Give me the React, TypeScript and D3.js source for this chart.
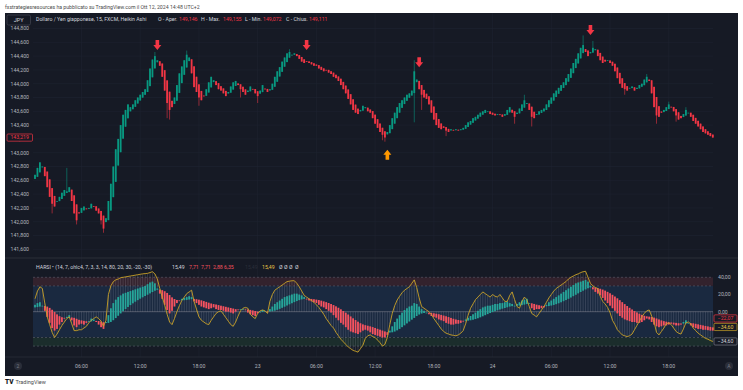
import * as d3 from "d3";
import { useEffect, useRef } from "react";

// 15 minute bars, first bar time
const START = "2024-10-22T01:15:00";
const BAR_MIN = 15;

// USD/JPY Heikin Ashi closes
const haClose = [
  142.68, 142.78, 142.86, 142.8, 142.66, 142.5, 142.36, 142.26, 142.22, 142.3,
  142.36, 142.42, 142.46, 142.44, 142.5, 142.3, 142.12, 142.02, 142.12, 142.2,
  142.22, 142.18, 142.2, 142.26, 142.22, 142.16, 142.12, 142.02, 141.9, 142.05,
  142.3, 142.55, 142.8, 143.05, 143.2, 143.4, 143.55, 143.62, 143.7, 143.66,
  143.7, 143.76, 143.8, 143.84, 143.88, 143.92, 144.05, 144.22, 144.35, 144.4,
  144.34, 144.26, 144.1, 143.9, 143.72, 143.62, 143.66, 143.8, 143.98, 144.15,
  144.25, 144.34, 144.42, 144.38, 144.15, 143.95, 143.88, 143.8, 143.76, 143.82,
  143.92, 144.02, 144.1, 144.05, 143.98, 143.92, 143.9, 143.86, 143.82, 143.88,
  143.96, 144.02, 144.04, 143.98, 143.92, 143.88, 143.84, 143.9, 143.96, 143.92,
  143.86, 143.82, 143.9, 143.98, 143.92, 143.88, 143.92, 144.0, 144.1, 144.18,
  144.24, 144.32, 144.38, 144.44, 144.46, 144.42, 144.44, 144.4, 144.36, 144.32,
  144.3, 144.32, 144.3, 144.28, 144.26, 144.26, 144.22, 144.2, 144.18, 144.2,
  144.16, 144.14, 144.1, 144.08, 144.04, 143.98, 143.92, 143.86, 143.78, 143.7,
  143.62, 143.58, 143.56, 143.62, 143.68, 143.66, 143.6, 143.58, 143.5, 143.42,
  143.36, 143.3, 143.26, 143.22, 143.3, 143.4, 143.5, 143.58, 143.66, 143.72,
  143.76, 143.8, 143.84, 143.86, 143.9, 144.18, 144.06, 143.92, 143.84, 143.8,
  143.78, 143.7, 143.58, 143.48, 143.4, 143.36, 143.34, 143.36, 143.32, 143.3,
  143.34, 143.32, 143.34, 143.32, 143.34, 143.36, 143.4, 143.44, 143.46, 143.5,
  143.52, 143.55, 143.58, 143.6, 143.62, 143.6, 143.56, 143.55, 143.54, 143.56,
  143.55, 143.52, 143.56, 143.62, 143.66, 143.58, 143.52, 143.58, 143.64, 143.7,
  143.76, 143.72, 143.62, 143.52, 143.5, 143.56, 143.6, 143.62, 143.64, 143.7,
  143.76, 143.8, 143.86, 143.9, 143.94, 143.98, 144.02, 144.08, 144.14, 144.22,
  144.3, 144.36, 144.44, 144.52, 144.56, 144.46, 144.4, 144.46, 144.52, 144.5,
  144.4, 144.34, 144.3, 144.32, 144.34, 144.3, 144.26, 144.18, 144.08, 144.0,
  143.94, 143.92, 143.9, 143.94, 143.96, 143.9, 143.94, 143.98, 144.0, 144.06,
  144.1, 144.04, 143.86, 143.66, 143.54, 143.52, 143.58, 143.62, 143.66, 143.7,
  143.66, 143.6, 143.54, 143.48, 143.5, 143.56, 143.62, 143.58, 143.52, 143.46,
  143.42, 143.38, 143.34, 143.3, 143.28, 143.26, 143.24, 143.219,
];
const firstOpen = 142.62;

// visible wicks [bar, price]
const wickHigh = [
  [13, 142.78], [49, 144.46], [62, 144.48], [104, 144.5], [155, 144.34],
  [200, 143.84], [224, 144.7], [228, 144.62], [250, 144.14], [259, 143.74], [266, 143.66],
];
const wickLow = [
  [7, 142.12], [17, 141.96], [27, 141.96], [28, 141.84], [54, 143.5], [55, 143.48],
  [67, 143.68], [84, 143.8], [91, 143.72], [142, 143.18], [143, 143.16], [155, 143.44],
  [158, 143.62], [168, 143.24], [196, 143.42], [203, 143.38], [241, 143.84], [254, 143.42],
  [262, 143.45],
];

// signal arrows
const signalBars = [50, 111, 157, 227, 144];
const signalPrices = [144.56, 144.56, 144.31, 144.78, 142.97];
const signalDirs = ["down", "down", "down", "down", "up"];

// HARSI: heikin ashi RSI closes (centered on 0) and stochastic line
const rsiClose = [
  8, 10, 11, 7, 1, -6, -13, -19, -22, -20,
  -15, -12, -8, -6, -4, -10, -16, -18, -15, -14,
  -15, -13, -11, -8, -9, -12, -15, -18, -20, -12,
  -4, 4, 10, 14, 17, 19, 21, 22, 23, 24,
  25, 26, 27, 28, 29, 30, 32, 34, 35, 33,
  27, 21, 15, 8, 2, -2, 1, 6, 10, 13,
  15, 16, 17, 18, 17, 12, 10, 8, 6, 5,
  4, 3, 4, 5, 3, 2, 2, 1, 0, 0,
  -1, -2, 0, 2, 3, 3, 2, -1, -3, -4,
  -5, -2, 0, 2, 1, 0, 3, 6, 9, 11,
  13, 15, 17, 18, 19, 20, 21, 21, 20, 19,
  17, 15, 13, 12, 11, 10, 8, 6, 5, 3,
  1, -1, -4, -7, -10, -13, -15, -18, -21, -23,
  -24, -25, -26, -24, -22, -21, -22, -24, -26, -27,
  -28, -29, -30, -30, -27, -22, -17, -12, -8, -4,
  -1, 2, 4, 6, 7, 10, 9, 6, 3, 1,
  -1, -3, -5, -6, -7, -9, -10, -11, -13, -14,
  -15, -15, -14, -14, -13, -11, -9, -7, -5, -3,
  -1, 1, 3, 5, 6, 7, 7, 8, 9, 9,
  10, 10, 11, 12, 10, 9, 7, 9, 11, 13,
  14, 15, 10, 4, 2, 3, 3, 4, 5, 8,
  11, 13, 15, 17, 19, 21, 23, 25, 27, 29,
  31, 33, 34, 35, 36, 37, 35, 30, 26, 23,
  21, 19, 16, 13, 10, 7, 4, 1, -2, -5,
  -7, -9, -10, -11, -12, -12, -13, -13, -12, -10,
  -8, -9, -12, -15, -17, -18, -17, -16, -16, -15,
  -14, -15, -16, -16, -15, -12, -10, -13, -16, -18,
  -19, -20, -20, -21, -21, -21.5, -22, -22.07,
];
const rsiSmoothing = 7;

const stoch = [
  15, 24, 29, 27, 10, -6, -15, -24, -30, -26,
  -21, -16, -12, -8, -6, -14, -22, -22, -21, -21,
  -19, -17, -13, -10, -8, -6, -8, -11, -17, -10,
  20, 30, 35, 37, 38, 39.5, 40, 40.5, 41, 41.5,
  42, 42.5, 43, 43.5, 44, 44.3, 44.6, 45.5, 46.5, 44,
  38, 27, 17, 8, -3, -12, -15, -8, 0, 7,
  13, 17, 21, 23, 25, 12, 3, -6, -10, -12,
  -14, -15, -10, -6, -2, 0, 1, -3, -7, -11,
  -15, -17, -12, -5, 1, 4, 5, 4, -3, -6,
  -8, -2, 1, 2, 1, -2, 12, 20, 25, 27,
  29, 31, 33, 35, 35.5, 36, 36, 33, 29, 24,
  19, 17, 15, 13, 11, 8, 5, 1, -3, -8,
  -12, -16, -19, -24, -28, -32, -35, -38, -41, -43,
  -45, -46, -47, -43, -39, -31, -28, -27, -29, -30,
  -33, -36, -40, -38, -30, -15, -2, 7, 13.5, 18,
  22, 25, 27, 29, 33, 37, 28, 16, 6, 4,
  2, 0, -3, -8, -12, -16, -20, -23, -25, -26,
  -27, -27.5, -28, -27, -25, -22, -14, -4, 4, 9,
  14, 17, 20, 23, 21, 19, 17, 20, 18, 17,
  20, 16, 12, 12, 19, 23, 14, 6, 4, 12,
  17, 14, 6, -2, -4, -6, -2, 2, 6, 11,
  16, 20, 24, 27, 29, 31, 33, 35, 38, 40,
  41.5, 43, 44, 45.5, 46.5, 47, 40, 33, 30, 28,
  27, 18, 12, 9, 5, -1, -10, -15, -21, -24,
  -27, -28, -29, -28, -26, -21, -16, -11, -6, -2,
  1, 2, -5, -12, -24, -27, -23, -19, -14, -13,
  -15, -19, -23, -25, -26, -20, -13, -12, -14, -19,
  -22, -25, -27, -29, -31, -32, -33.5, -34.6,
];

const priceTicks = [141.6, 141.8, 142.0, 142.2, 142.4, 142.6, 142.8, 143.0, 143.2, 143.4, 143.6, 143.8, 144.0, 144.2, 144.4, 144.6, 144.8];
const oscTicks = [40, 20, 0];
const timeTicks = [
  "2024-10-22T06:00:00", "2024-10-22T12:00:00", "2024-10-22T18:00:00", "2024-10-23T00:00:00",
  "2024-10-23T06:00:00", "2024-10-23T12:00:00", "2024-10-23T18:00:00", "2024-10-24T00:00:00",
  "2024-10-24T06:00:00", "2024-10-24T12:00:00", "2024-10-24T18:00:00",
];
const timeLabels = ["06:00", "12:00", "18:00", "23", "06:00", "12:00", "18:00", "24", "06:00", "12:00", "18:00"];

const headerText = "fxstrategiesresources ha pubblicato su TradingView.com il Ott 12, 2024 14:48 UTC+2";
const mainLegend = [
  ["Dollaro / Yen giapponese, 15, FXCM, Heikin Ashi", "#d1d4dc", 36],
  ["O - Aper.", "#d1d4dc", 158], ["149,146", "#f23645", 179],
  ["H - Max.", "#d1d4dc", 201], ["149,155", "#f23645", 223],
  ["L - Min.", "#d1d4dc", 245], ["149,072", "#f23645", 263],
  ["C - Chius.", "#d1d4dc", 286], ["149,111", "#f23645", 309],
];
const harsiLegend = [
  ["HARSI • (14, 7, ohlc4, 7, 3, 3, 14, 80, 20, 30, -20, -30)", "#d1d4dc", 36],
  ["15,49", "#d1d4dc", 172], ["7,71", "#f7525f", 189], ["7,71", "#f7525f", 201],
  ["2,88", "#f7525f", 213], ["6,35", "#f7525f", 224], ["15,49", "#2a2e39", 245],
  ["15,49", "#e8c547", 262], ["Ø", "#d1d4dc", 279], ["Ø", "#d1d4dc", 284],
  ["Ø", "#d1d4dc", 289], ["Ø", "#d1d4dc", 295],
];

export default function App() {
  const svgRef = useRef<SVGSVGElement | null>(null);

  useEffect(() => {
    if (!svgRef.current) return;
    document.body.style.margin = "0";
    const svg = d3.select(svgRef.current);
    svg.selectAll("*").remove();

    const font = "Roboto, 'Noto Sans', sans-serif";
    const bg = "#161a25";
    const axisText = "#b2b5be";
    const up = "#089981";
    const down = "#f23645";
    const it = d3.formatLocale({ decimal: ",", thousands: ".", grouping: [3], currency: ["", "€"] });
    const fmtPrice = it.format(".3f");
    const fmtOsc = it.format(".2f");

    const left = 33, right = 713;
    const mainTop = 13, mainBottom = 258, oscBottom = 357, boxBottom = 376;

    const t0 = new Date(START).getTime();
    const N = haClose.length;
    const times = haClose.map((_, i) => new Date(t0 + i * BAR_MIN * 60000));
    const x = d3.scaleTime().domain([times[0], times[N - 1]]).range([35, 712.8]);
    const y = d3.scaleLinear().domain([141.6, 144.6]).range([249.3, 42.3]);
    const yo = d3.scaleLinear().domain([-40, 40]).range([346.1, 277.3]);
    const bw = 1.8;

    // heikin ashi opens
    const haOpen: number[] = [];
    haClose.forEach((c, i) => haOpen.push(i === 0 ? firstOpen : (haOpen[i - 1] + haClose[i - 1]) / 2));
    const hiMap = new Map(wickHigh.map((d) => [d[0], d[1]]));
    const loMap = new Map(wickLow.map((d) => [d[0], d[1]]));
    const candles = haClose.map((c, i) => {
      const o = haOpen[i];
      return {
        t: times[i], o, c,
        h: Math.max(o, c, hiMap.get(i) ?? -Infinity),
        l: Math.min(o, c, loMap.get(i) ?? Infinity),
      };
    });

    // HARSI candles: smoothed HA open
    const rsiOpen: number[] = [];
    rsiClose.forEach((c, i) =>
      rsiOpen.push(i === 0 ? c - 3 : (rsiOpen[i - 1] * rsiSmoothing + rsiClose[i - 1]) / (rsiSmoothing + 1)),
    );

    svg.attr("width", 743).attr("height", 390).style("display", "block").style("background", "#fff");

    // header text
    svg.append("text").attr("x", 5).attr("y", 8.5).attr("fill", "#4a4a4a")
      .style("font-family", font).style("font-size", "5.2px").text(headerText);

    // chart box
    svg.append("rect").attr("x", 5).attr("y", mainTop).attr("width", 733).attr("height", boxBottom - mainTop).attr("fill", bg);

    // grid
    const grid = svg.append("g").attr("stroke", "#1f2330").attr("stroke-width", 0.6);
    grid.selectAll("line.v").data(timeTicks).join("line")
      .attr("x1", (d) => x(new Date(d))).attr("x2", (d) => x(new Date(d)))
      .attr("y1", mainTop).attr("y2", oscBottom);
    grid.selectAll("line.h").data(priceTicks).join("line")
      .attr("x1", left).attr("x2", right)
      .attr("y1", (d) => y(d)).attr("y2", (d) => y(d));

    // price labels (left scale)
    svg.append("g").selectAll("text").data(priceTicks).join("text")
      .attr("x", 29).attr("y", (d) => y(d) + 1.8).attr("text-anchor", "end")
      .attr("fill", axisText).style("font-family", font).style("font-size", "5.2px")
      .text((d) => fmtPrice(d));

    // candles
    const cg = svg.append("g");
    cg.selectAll("line").data(candles).join("line")
      .attr("x1", (d) => x(d.t)).attr("x2", (d) => x(d.t))
      .attr("y1", (d) => y(d.h)).attr("y2", (d) => y(d.l))
      .attr("stroke", (d) => (d.c >= d.o ? up : down)).attr("stroke-opacity", 0.7).attr("stroke-width", 0.8);
    cg.selectAll("rect").data(candles).join("rect")
      .attr("x", (d) => x(d.t) - bw / 2).attr("width", bw)
      .attr("y", (d) => y(Math.max(d.o, d.c)))
      .attr("height", (d) => Math.max(0.8, Math.abs(y(d.o) - y(d.c))))
      .attr("fill", (d) => (d.c >= d.o ? up : down));

    // signal arrows
    const ag = svg.append("g");
    signalBars.forEach((b, k) => {
      const cx = x(times[b]);
      const cy = y(signalPrices[k]);
      const s = signalDirs[k] === "down" ? 1 : -1;
      const pts = [
        [-1.8, -5], [1.8, -5], [1.8, 0], [4, 0], [0, 5], [-4, 0], [-1.8, 0],
      ].map(([px, py]) => `${cx + px},${cy + py * s}`).join(" ");
      ag.append("polygon").attr("points", pts).attr("fill", signalDirs[k] === "down" ? "#f23645" : "#ff9800");
    });

    // last price label
    const lp = haClose[N - 1];
    svg.append("rect").attr("x", 7).attr("y", y(lp) - 3.6).attr("width", 25.5).attr("height", 7.2)
      .attr("rx", 1).attr("fill", bg).attr("stroke", down).attr("stroke-width", 0.7);
    svg.append("text").attr("x", 19.7).attr("y", y(lp) + 1.8).attr("text-anchor", "middle")
      .attr("fill", down).style("font-family", font).style("font-size", "5.2px").text(fmtPrice(lp));

    // JPY box
    svg.append("rect").attr("x", 7).attr("y", 15).attr("width", 23.5).attr("height", 10)
      .attr("rx", 1.5).attr("fill", bg).attr("stroke", "#434651").attr("stroke-width", 0.7);
    svg.append("text").attr("x", 18.7).attr("y", 22).attr("text-anchor", "middle")
      .attr("fill", "#d1d4dc").style("font-family", font).style("font-size", "5.5px").text("JPY");

    // main legend
    svg.append("g").selectAll("text").data(mainLegend).join("text")
      .attr("x", (d) => d[2] as number).attr("y", 20.5).attr("fill", (d) => d[1] as string)
      .style("font-family", font).style("font-size", "5.2px").text((d) => d[0] as string);

    // panel separator
    svg.append("line").attr("x1", 5).attr("x2", 738).attr("y1", mainBottom).attr("y2", mainBottom)
      .attr("stroke", "#2a2e39").attr("stroke-width", 1);

    // HARSI bands
    const og = svg.append("g");
    og.append("rect").attr("x", left).attr("width", right - left).attr("y", yo(40)).attr("height", yo(30) - yo(40)).attr("fill", "#33222d");
    og.append("rect").attr("x", left).attr("width", right - left).attr("y", yo(30)).attr("height", yo(-30) - yo(30)).attr("fill", "#1a2940");
    og.append("rect").attr("x", left).attr("width", right - left).attr("y", yo(-30)).attr("height", yo(-40) - yo(-30)).attr("fill", "#1b2d2c");
    og.selectAll("line.dash").data([40, 30, -30, -40]).join("line")
      .attr("x1", left).attr("x2", right).attr("y1", (d) => yo(d)).attr("y2", (d) => yo(d))
      .attr("stroke", "#5d606b").attr("stroke-width", 0.6).attr("stroke-dasharray", "2,2");
    og.append("line").attr("x1", left).attr("x2", right).attr("y1", yo(0)).attr("y2", yo(0))
      .attr("stroke", "#787b86").attr("stroke-width", 0.6);

    // stochastic fill
    og.append("g").selectAll("line").data(stoch).join("line")
      .attr("x1", (_, i) => x(times[i])).attr("x2", (_, i) => x(times[i]))
      .attr("y1", yo(0)).attr("y2", (d) => yo(d))
      .attr("stroke", "#d1d4dc").attr("stroke-opacity", 0.2).attr("stroke-width", 0.8);

    // HARSI candles
    og.append("g").selectAll("rect").data(rsiClose).join("rect")
      .attr("x", (_, i) => x(times[i]) - bw / 2).attr("width", bw)
      .attr("y", (d, i) => yo(Math.max(d, rsiOpen[i])))
      .attr("height", (d, i) => Math.max(0.8, Math.abs(yo(d) - yo(rsiOpen[i]))))
      .attr("fill", (d, i) => (d >= rsiOpen[i] ? "#26a69a" : "#f7525f"));

    // stochastic line
    const line = d3.line<number>().x((_, i) => x(times[i])).y((d) => yo(d));
    og.append("path").datum(stoch).attr("d", line).attr("fill", "none")
      .attr("stroke", "#c9a227").attr("stroke-width", 0.9);

    // HARSI legend
    svg.append("g").selectAll("text").data(harsiLegend).join("text")
      .attr("x", (d) => d[2] as number).attr("y", 268.5).attr("fill", (d) => d[1] as string)
      .style("font-family", font).style("font-size", "5.2px").text((d) => d[0] as string);

    // right scale of HARSI
    svg.append("g").selectAll("text").data(oscTicks).join("text")
      .attr("x", 718).attr("y", (d) => yo(d) + 1.8).attr("fill", axisText)
      .style("font-family", font).style("font-size", "5.2px").text((d) => fmtOsc(d));

    const lastStoch = stoch[N - 1];
    const lastRsi = rsiClose[N - 1];
    const valueTags = [
      { v: lastStoch, y: yo(lastStoch), color: "#d1d4dc", border: "#787b86" },
      { v: lastStoch, y: yo(lastStoch) - 14.5, color: "#e8c547", border: "#c9a227" },
      { v: lastRsi, y: yo(lastStoch) - 23, color: "#f23645", border: "#f23645" },
    ];
    valueTags.forEach((t) => {
      svg.append("rect").attr("x", 714).attr("y", t.y - 3.6).attr("width", 23).attr("height", 7.2)
        .attr("rx", 1).attr("fill", bg).attr("stroke", t.border).attr("stroke-width", 0.7);
      svg.append("text").attr("x", 725.5).attr("y", t.y + 1.8).attr("text-anchor", "middle")
        .attr("fill", t.color).style("font-family", font).style("font-size", "5.2px").text(fmtOsc(t.v));
    });

    // time axis
    svg.append("line").attr("x1", 5).attr("x2", 738).attr("y1", oscBottom).attr("y2", oscBottom)
      .attr("stroke", "#2a2e39").attr("stroke-width", 0.8);
    svg.append("g").selectAll("text").data(timeTicks).join("text")
      .attr("x", (d) => x(new Date(d))).attr("y", 368).attr("text-anchor", "middle")
      .attr("fill", axisText).style("font-family", font).style("font-size", "5.2px")
      .text((_, i) => timeLabels[i]);
    [[18, "2"], [729, "A"]].forEach(([cx, s]) => {
      svg.append("circle").attr("cx", cx as number).attr("cy", 366).attr("r", 4).attr("fill", "#2a2e39");
      svg.append("text").attr("x", cx as number).attr("y", 367.8).attr("text-anchor", "middle")
        .attr("fill", "#787b86").style("font-family", font).style("font-size", "5px").text(s as string);
    });

    // footer logo
    svg.append("text").attr("x", 5).attr("y", 384).attr("fill", "#131722")
      .style("font-family", font).style("font-size", "6.5px").style("font-weight", "900").text("TV");
    svg.append("text").attr("x", 15.5).attr("y", 384).attr("fill", "#4a4a4a")
      .style("font-family", font).style("font-size", "5.5px").text("TradingView");
  }, []);

  return <svg ref={svgRef}></svg>;
}
